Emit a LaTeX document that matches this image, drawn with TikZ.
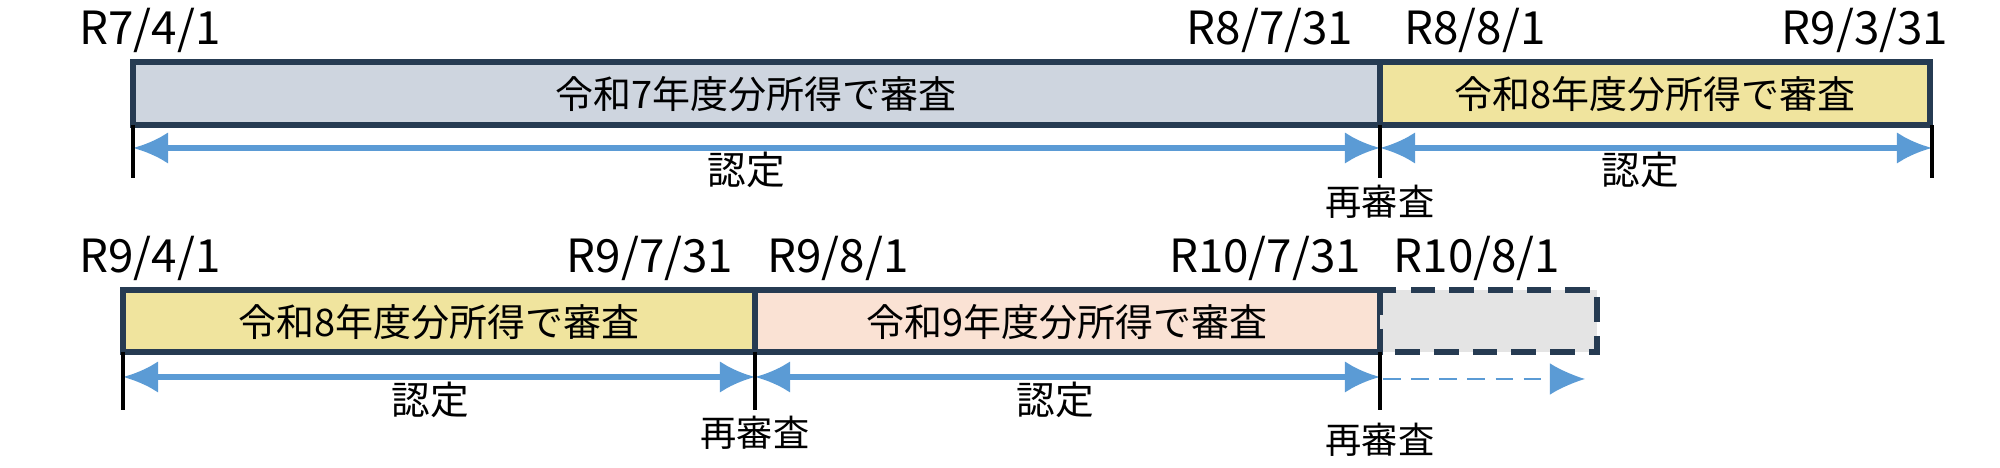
\documentclass[tikz,border=0pt]{standalone}
\usepackage{fontspec}
\setmainfont{Noto Sans CJK JP}
\usetikzlibrary{arrows.meta}
\begin{document}
\begin{tikzpicture}[x=0.01cm,y=-0.01cm,
 tick/.style={line width=1.2pt},
 date/.style={font=\fontsize{13pt}{13pt}\selectfont},
 re/.style={font=\fontsize{10.3pt}{10.3pt}\selectfont},
 lab/.style={font=\fontsize{11pt}{11pt}\selectfont},
 btxt/.style={font=\fontsize{10.8pt}{10.8pt}\selectfont},
 dbl/.style={ac, line width=1.5pt, {Latex[length=10pt,width=9pt]}-{Latex[length=10pt,width=9pt]}},
 bx/.style={draw=dk, line width=1.6pt}]
\useasboundingbox (0,0) rectangle (2000,468);
\definecolor{ac}{RGB}{91,155,213}
\definecolor{dk}{RGB}{38,59,82}
% top row
\filldraw[bx, fill={rgb,255:red,206;green,213;blue,223}] (133,62) rectangle (1380,125);
\node[btxt] (t1) at (756,94) {令和7年度分所得で審査};
\filldraw[bx, fill={rgb,255:red,240;green,228;blue,158}] (1380,62) rectangle (1930,125);
\node[btxt] (t2) at (1655,94) {令和8年度分所得で審査};
\coordinate (a0) at (133,148); \coordinate (a1) at (1380,148); \coordinate (a2) at (1932,148);
\draw[dbl] (a0) -- (a1);
\draw[dbl] (a1) -- (a2);
\draw[tick] (133,125) -- (133,178); \draw[tick] (1380,125) -- (1380,178); \draw[tick] (1932,125) -- (1932,178);
\node[lab] (n1) at (746,170) {認定};
\node[lab] (n2) at (1640,170) {認定};
\node[re] (r1) at (1380,202) {再審査};
\node[date] (d1) at (150,30) {R7/4/1};
\node[date] (d2) at (1270,30) {R8/7/31};
\node[date] (d3) at (1475,30) {R8/8/1};
\node[date] (d4) at (1865,30) {R9/3/31};
% bottom row
\filldraw[bx, fill={rgb,255:red,240;green,228;blue,158}] (123,290) rectangle (755,352);
\node[btxt] (t3) at (439,322) {令和8年度分所得で審査};
\filldraw[bx, fill={rgb,255:red,250;green,226;blue,212}] (755,290) rectangle (1380,352);
\node[btxt] (t4) at (1067,322) {令和9年度分所得で審査};
\filldraw[bx, fill={rgb,255:red,228;green,228;blue,228}, dash pattern=on 7pt off 4pt] (1380,290) rectangle (1597,352);
\coordinate (b0) at (123,377); \coordinate (b1) at (755,377); \coordinate (b2) at (1380,377);
\coordinate (b2s) at (1383,379); \coordinate (b3) at (1585,379);
\draw[dbl] (b0) -- (b1);
\draw[dbl] (b1) -- (b2);
\draw[ac, line width=0.6pt, dash pattern=on 5pt off 3pt, -{Latex[length=10pt,width=9pt]}] (b2s) -- (b3);
\draw[tick] (123,352) -- (123,410); \draw[tick] (755,352) -- (755,410); \draw[tick] (1380,352) -- (1380,410);
\node[lab] (n3) at (430,400) {認定};
\node[lab] (n4) at (1055,400) {認定};
\node[re] (r2) at (755,433) {再審査};
\node[re] (r3) at (1380,440) {再審査};
\node[date] (d5) at (150,258) {R9/4/1};
\node[date] (d6) at (650,258) {R9/7/31};
\node[date] (d7) at (838,258) {R9/8/1};
\node[date] (d8) at (1265,258) {R10/7/31};
\node[date] (d9) at (1477,258) {R10/8/1};
\end{tikzpicture}
\end{document}
